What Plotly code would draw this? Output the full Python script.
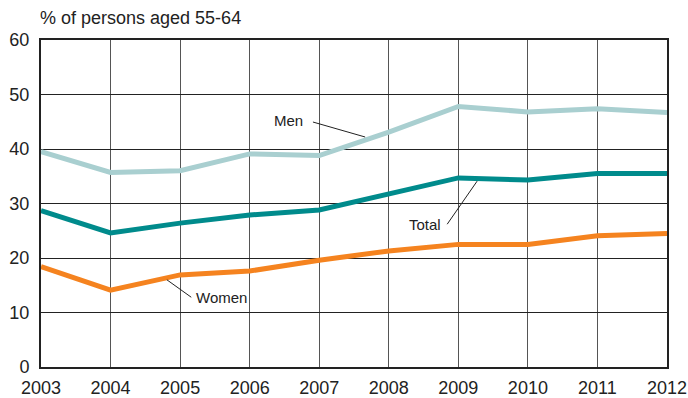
import plotly.graph_objects as go

years = [2003, 2004, 2005, 2006, 2007, 2008, 2009, 2010, 2011, 2012]
men = [39.5, 35.7, 36.0, 39.1, 38.8, 43.1, 47.8, 46.8, 47.4, 46.7]
total = [28.7, 24.6, 26.4, 27.9, 28.8, 31.7, 34.7, 34.3, 35.5, 35.5]
women = [18.4, 14.1, 16.9, 17.6, 19.6, 21.3, 22.5, 22.5, 24.1, 24.5]

FONT = "Liberation Sans, Arial, sans-serif"

fig = go.Figure()
fig.add_trace(go.Scatter(x=years, y=men, mode="lines", name="Men",
                         line=dict(color="#a9cfd0", width=5)))
fig.add_trace(go.Scatter(x=years, y=total, mode="lines", name="Total",
                         line=dict(color="#008b8c", width=5)))
fig.add_trace(go.Scatter(x=years, y=women, mode="lines", name="Women",
                         line=dict(color="#f5831f", width=5)))

# leader lines for labels
leaders = [
    ((2006.91, 44.95), (2007.66, 42.2)),
    ((2008.84, 26.2), (2009.27, 34.1)),
    ((2004.81, 16.0), (2005.16, 12.8)),
]
for (x0, y0), (x1, y1) in leaders:
    fig.add_shape(type="line", x0=x0, y0=y0, x1=x1, y1=y1, xref="x", yref="y",
                  line=dict(color="#222222", width=1))

labels = [
    ("Men", 2006.80, 45.3, "right"),
    ("Total", 2008.78, 26.2, "right"),
    ("Women", 2005.20, 12.8, "left"),
]
for txt, x, y, anc in labels:
    fig.add_annotation(x=x, y=y, text=txt, showarrow=False, xanchor=anc,
                       yanchor="middle", font=dict(size=15, color="#222222", family=FONT))

fig.add_annotation(text="% of persons aged 55-64", xref="paper", yref="paper",
                   x=-0.005, y=1.0, yshift=22, xanchor="left", yanchor="middle",
                   showarrow=False, font=dict(size=18, color="#222222", family=FONT))

fig.update_xaxes(range=[2003, 2012], tickvals=years, ticktext=[str(y) for y in years],
                 showgrid=True, gridcolor="#555555", gridwidth=1, automargin=False,
                 showline=True, linecolor="#222222", linewidth=2, mirror=True,
                 zeroline=False, ticks="", ticklabelstandoff=3,
                 tickfont=dict(size=18, color="#222222", family=FONT))
fig.update_yaxes(range=[0, 60], tickvals=[0, 10, 20, 30, 40, 50, 60],
                 showgrid=True, gridcolor="#222222", gridwidth=1, automargin=False,
                 showline=True, linecolor="#222222", linewidth=2, mirror=True,
                 zeroline=False, ticks="", ticklabelstandoff=6,
                 tickfont=dict(size=18, color="#222222", family=FONT))

fig.update_layout(width=688, height=398, margin=dict(l=41, r=21, t=40, b=31, autoexpand=False),
                  plot_bgcolor="white", paper_bgcolor="white", showlegend=False,
                  font=dict(family=FONT))

# remove the default 8px body margin so the figure fills the window exactly
fig.write_html("out.html", config={"displayModeBar": False},
               post_script="document.body.style.margin='0';document.body.style.overflow='hidden';")
